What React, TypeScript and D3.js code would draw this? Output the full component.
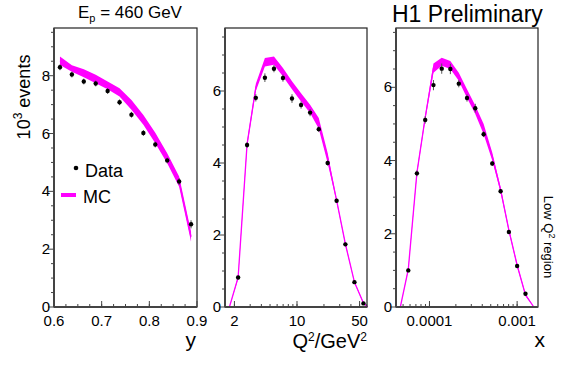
import React from 'react';
import * as d3 from 'd3';

// ---- data ----
// y distribution
const yCenters = [0.6125, 0.6375, 0.6625, 0.6875, 0.7125, 0.7375, 0.7625, 0.7875, 0.8125, 0.8375, 0.8625, 0.8875];
const yData = [8.29, 8.04, 7.8, 7.73, 7.47, 7.08, 6.65, 6.02, 5.62, 5.07, 4.34, 2.86];
const yErr = [0.1, 0.1, 0.1, 0.1, 0.1, 0.1, 0.1, 0.1, 0.1, 0.1, 0.12, 0.14];
const yMcLo = [8.37, 8.14, 7.95, 7.74, 7.53, 7.28, 6.82, 6.3, 5.66, 4.97, 4.16, 2.26];
const yMcHi = [8.66, 8.36, 8.22, 8.03, 7.8, 7.57, 7.16, 6.64, 6.03, 5.32, 4.51, 2.6];

// Q2 distribution
const q2Centers = [2.2, 2.77, 3.47, 4.38, 5.53, 6.97, 8.79, 11.1, 14.0, 17.5, 22.0, 27.7, 34.7, 43.8, 55.2];
const q2Data = [0.82, 4.5, 5.81, 6.37, 6.62, 6.36, 5.79, 5.61, 5.4, 4.94, 4.0, 2.95, 1.74, 0.69, 0.1];
const q2Err = [0.05, 0.08, 0.1, 0.12, 0.1, 0.1, 0.12, 0.1, 0.1, 0.08, 0.07, 0.06, 0.05, 0.04, 0.02];
const q2McX = [1.76, 2.2, 2.77, 3.47, 4.38, 5.53, 6.97, 8.79, 11.1, 14.0, 17.5, 22.0, 27.7, 34.7, 43.8, 55.2, 61.6];
const q2McLo = [0, 0.78, 4.45, 6.0, 6.68, 6.73, 6.4, 6.05, 5.71, 5.39, 4.95, 4.0, 2.92, 1.72, 0.67, 0.09, 0];
const q2McHi = [0, 0.86, 4.6, 6.2, 6.92, 6.96, 6.64, 6.27, 5.94, 5.62, 5.25, 4.28, 3.0, 1.78, 0.71, 0.13, 0];

// x distribution
const xCenters = [5.73e-5, 7.19e-5, 8.94e-5, 1.11e-4, 1.38e-4, 1.73e-4, 2.16e-4, 2.68e-4, 3.33e-4, 4.15e-4, 5.2e-4, 6.48e-4, 8.05e-4, 1.0e-3, 1.245e-3];
const xData = [1.0, 3.65, 5.11, 6.06, 6.51, 6.5, 6.1, 5.71, 5.43, 4.72, 3.92, 3.16, 2.05, 1.12, 0.36];
const xErr = [0.05, 0.08, 0.1, 0.14, 0.14, 0.14, 0.1, 0.1, 0.12, 0.08, 0.07, 0.06, 0.05, 0.04, 0.03];
const xMcX = [4.65e-5, 5.73e-5, 7.19e-5, 8.94e-5, 1.11e-4, 1.38e-4, 1.73e-4, 2.16e-4, 2.68e-4, 3.33e-4, 4.15e-4, 5.2e-4, 6.48e-4, 8.05e-4, 1.0e-3, 1.245e-3, 1.55e-3];
const xMcLo = [0, 1.0, 3.62, 5.1, 6.4, 6.59, 6.5, 6.18, 5.71, 5.27, 4.72, 4.0, 3.13, 2.05, 1.1, 0.3, 0];
const xMcHi = [0, 1.06, 3.72, 5.25, 6.65, 6.81, 6.72, 6.4, 5.95, 5.5, 5.0, 4.22, 3.27, 2.15, 1.18, 0.36, 0];

const yTickLabels = ['0.6', '0.7', '0.8', '0.9'];
const q2TickLabels = ['2', '10', '50'];
const xTickLabels = ['0.0001', '0.001'];
const countTicks = [0, 2, 4, 6, 8];

const FONT = '"Liberation Sans", Arial, Helvetica, sans-serif';
const MAGENTA = '#ff00ff';

type PanelProps = {
  left: number;
  right: number;
  top: number;
  bottom: number;
  x: any;
  yMax: number;
  centers: number[];
  data: number[];
  err: number[];
  mcX: number[];
  mcLo: number[];
  mcHi: number[];
  majorX: number[];
  majorLabels: string[];
  minorX: number[];
};

function Panel(p: PanelProps) {
  const x = p.x.range([p.left, p.right]);
  const y = d3.scaleLinear().domain([0, p.yMax]).range([p.bottom, p.top]);
  const idx = d3.range(p.mcX.length);
  const area = d3.area<number>()
    .x(i => x(p.mcX[i]))
    .y0(i => y(p.mcLo[i]))
    .y1(i => y(p.mcHi[i]));
  const mid = d3.line<number>()
    .x(i => x(p.mcX[i]))
    .y(i => y((p.mcLo[i] + p.mcHi[i]) / 2));
  const minorY = d3.range(0, p.yMax, 0.5);
  return (
    <g>
      <path d={area(idx) || ''} fill={MAGENTA} stroke="none" />
      <path d={mid(idx) || ''} fill="none" stroke={MAGENTA} strokeWidth={1.3} />
      {p.centers.map((c, i) => (
        <g key={i}>
          <line x1={x(c)} x2={x(c)} y1={y(p.data[i] - p.err[i])} y2={y(p.data[i] + p.err[i])} stroke="#555" strokeWidth={1} />
          <circle cx={x(c)} cy={y(p.data[i])} r={2.2} fill="#000" />
        </g>
      ))}
      <rect x={p.left} y={p.top} width={p.right - p.left} height={p.bottom - p.top} fill="none" stroke="#222" strokeWidth={1.2} />
      <line x1={p.left} x2={p.left} y1={p.top} y2={p.bottom} stroke="#444" strokeWidth={2} />
      <line x1={p.left} x2={p.right} y1={p.bottom} y2={p.bottom} stroke="#444" strokeWidth={2} />
      {minorY.map(v => (
        <line key={'my' + v} x1={p.left - (v % 2 === 0 ? 6 : 3)} x2={p.left} y1={y(v)} y2={y(v)} stroke="#444" strokeWidth={1} />
      ))}
      {countTicks.filter(v => v <= p.yMax).map(v => (
        <text key={'ty' + v} x={p.left - 4} y={y(v) + 5} textAnchor="end" fontSize={15} fontFamily={FONT}>{v}</text>
      ))}
      {p.minorX.map((v, i) => (
        <line key={'mx' + i} x1={x(v)} x2={x(v)} y1={p.bottom} y2={p.bottom - 3} stroke="#444" strokeWidth={1} />
      ))}
      {p.majorX.map((v, i) => (
        <g key={'tx' + i}>
          <line x1={x(v)} x2={x(v)} y1={p.bottom} y2={p.bottom - 6} stroke="#444" strokeWidth={1} />
          <text x={x(v)} y={p.bottom + 19} textAnchor="middle" fontSize={15} fontFamily={FONT}>{p.majorLabels[i]}</text>
        </g>
      ))}
    </g>
  );
}

function logMinor(lo: number, hi: number) {
  const out: number[] = [];
  for (let e = Math.floor(Math.log10(lo)); e <= Math.ceil(Math.log10(hi)); e++) {
    for (let m = 1; m < 10; m++) {
      const v = m * Math.pow(10, e);
      if (v > lo && v < hi) out.push(v);
    }
  }
  return out;
}

export default function App() {
  const top = 28;
  const bottom = 307;
  return (
    <svg width={567} height={369} style={{ position: 'absolute', left: 0, top: 0, background: '#fff' }}>
      <Panel
        left={54} right={197} top={top} bottom={bottom}
        x={d3.scaleLinear().domain([0.6, 0.9])}
        yMax={9.65}
        centers={yCenters} data={yData} err={yErr}
        mcX={yCenters} mcLo={yMcLo} mcHi={yMcHi}
        majorX={[0.6, 0.7, 0.8, 0.9]} majorLabels={yTickLabels}
        minorX={d3.range(0.625, 0.9, 0.025)}
      />
      <Panel
        left={225} right={367} top={top} bottom={bottom}
        x={d3.scaleLog().domain([1.57, 60.5])}
        yMax={7.75}
        centers={q2Centers} data={q2Data} err={q2Err}
        mcX={q2McX} mcLo={q2McLo} mcHi={q2McHi}
        majorX={[2, 10, 50]} majorLabels={q2TickLabels}
        minorX={logMinor(1.57, 60.5)}
      />
      <Panel
        left={396} right={538} top={top} bottom={bottom}
        x={d3.scaleLog().domain([4.15e-5, 1.73e-3])}
        yMax={7.62}
        centers={xCenters} data={xData} err={xErr}
        mcX={xMcX} mcLo={xMcLo} mcHi={xMcHi}
        majorX={[1e-4, 1e-3]} majorLabels={xTickLabels}
        minorX={logMinor(4.15e-5, 1.73e-3)}
      />

      {/* titles */}
      <text x={78} y={18} fontSize={17} fontFamily={FONT}>
        E<tspan fontSize={11} dy={4}>p</tspan><tspan dy={-4}> = 460 GeV</tspan>
      </text>
      <text x={392} y={22} fontSize={23} fontFamily={FONT}>H1 Preliminary</text>

      {/* axis titles */}
      <text transform="translate(30,97) rotate(-90)" textAnchor="middle" fontSize={18} fontFamily={FONT}>
        10<tspan fontSize={12} dy={-8}>3</tspan><tspan dy={8}> events</tspan>
      </text>
      <text x={196} y={347} textAnchor="end" fontSize={21} fontFamily={FONT}>y</text>
      <text x={367} y={348} textAnchor="end" fontSize={20} fontFamily={FONT}>
        Q<tspan fontSize={12} dy={-7}>2</tspan><tspan dy={7}>/GeV</tspan><tspan fontSize={12} dy={-7}>2</tspan>
      </text>
      <text x={545} y={347} textAnchor="end" fontSize={21} fontFamily={FONT}>x</text>
      <text transform="translate(544,237) rotate(90)" textAnchor="middle" fontSize={13} fontFamily={FONT}>
        Low Q<tspan fontSize={9} dy={-5}>2</tspan><tspan dy={5}> region</tspan>
      </text>

      {/* legend */}
      <circle cx={76} cy={168} r={2.3} fill="#000" />
      <text x={85} y={177} fontSize={18} fontFamily={FONT}>Data</text>
      <line x1={61} x2={76} y1={195} y2={195} stroke={MAGENTA} strokeWidth={4} />
      <text x={83} y={203} fontSize={18} fontFamily={FONT}>MC</text>
    </svg>
  );
}
